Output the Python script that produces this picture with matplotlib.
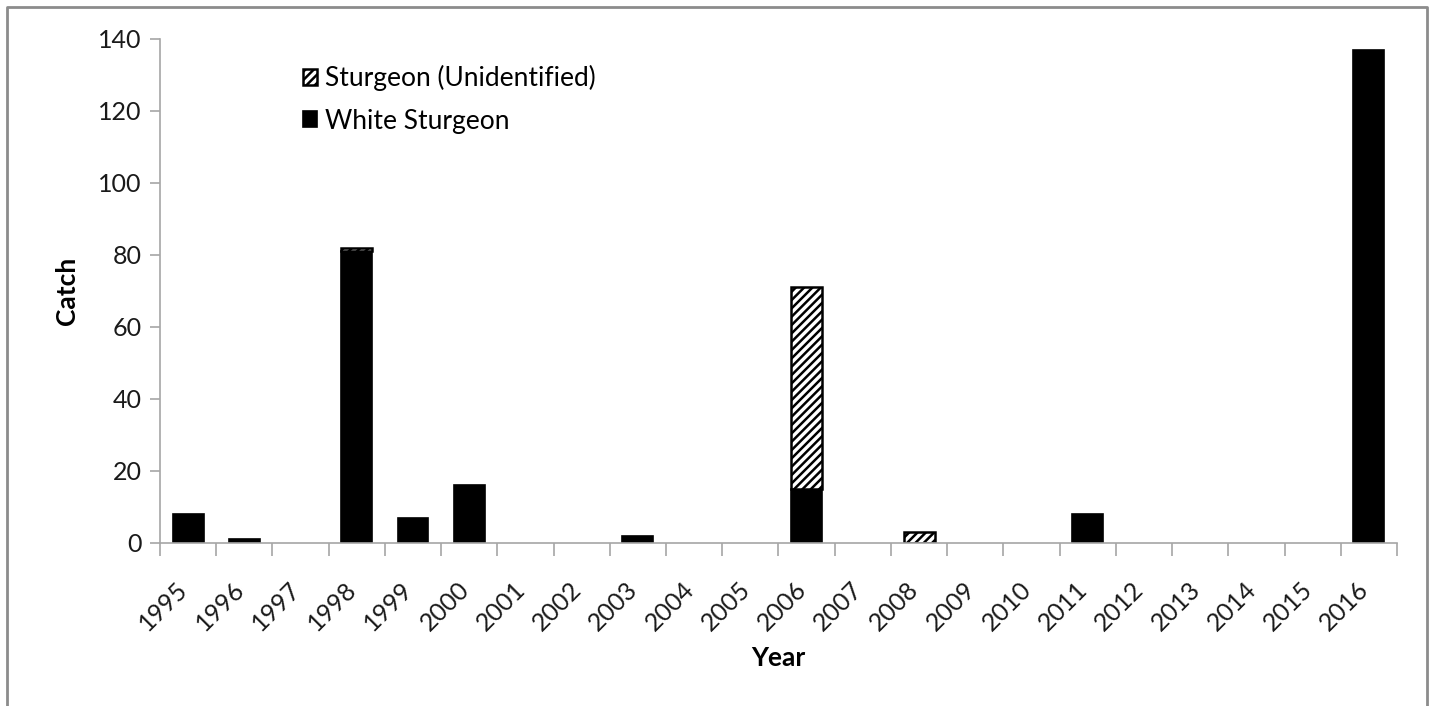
import numpy as np
import matplotlib.pyplot as plt
import matplotlib.transforms as mtransforms
from matplotlib.lines import Line2D

plt.rcParams['font.family'] = ['Lato', 'DejaVu Sans']
plt.rcParams['hatch.linewidth'] = 1.8

# datos
years = ['1995', '1996', '1997', '1998', '1999', '2000', '2001', '2002', '2003', '2004', '2005',
         '2006', '2007', '2008', '2009', '2010', '2011', '2012', '2013', '2014', '2015', '2016']
white = [8, 1, 0, 81, 7, 16, 0, 0, 2, 0, 0, 15, 0, 0, 0, 0, 8, 0, 0, 0, 0, 137]
unident = [0, 0, 0, 1, 0, 0, 0, 0, 0, 0, 0, 56, 0, 3, 0, 0, 0, 0, 0, 0, 0, 0]

gris = '#a6a6a6'
W, H = 1434, 706
x = np.arange(len(years))
white = np.array(white, dtype=float)
unident = np.array(unident, dtype=float)

fig = plt.figure(figsize=(W/100, H/100), dpi=100)
ax = fig.add_axes([160/W, 1-543/H, (1397-160)/W, (543-39)/H])

# solo se dibujan las barras con valor distinto de cero
w = 0.55
iw = white > 0
iu = unident > 0
ax.bar(x[iw], white[iw], width=w, color='black', edgecolor='black', linewidth=1.2,
       label='White Sturgeon')
ax.bar(x[iu], unident[iu], width=w, bottom=white[iu], color='white', edgecolor='black',
       linewidth=1.8, hatch='////', label='Sturgeon (Unidentified)')

ax.set_xlim(-0.5, len(years) - 0.5)
ax.set_ylim(0, 140)
ax.set_yticks(np.arange(0, 141, 20))
ax.set_xticks(x)
ax.set_xticklabels(years, rotation=45, ha='right', va='center', rotation_mode='anchor')
ax.set_xticks(np.arange(-0.5, len(years), 1), minor=True)
ax.tick_params(axis='x', which='major', length=0, pad=31, labelsize=18, labelcolor='#1a1a1a')
ax.tick_params(axis='x', which='minor', length=9, color=gris, width=1.2)
ax.tick_params(axis='y', length=7, color=gris, width=1.2, pad=6, labelsize=18,
               labelcolor='#1a1a1a')

# desplazamiento de las etiquetas del eje x
off = mtransforms.ScaledTranslation(-4/100, 0, fig.dpi_scale_trans)
for lab in ax.get_xticklabels():
    lab.set_transform(lab.get_transform() + off)

for s in ['top', 'right']:
    ax.spines[s].set_visible(False)
for s in ['left', 'bottom']:
    ax.spines[s].set_color(gris)
    ax.spines[s].set_linewidth(1.2)

ax.set_ylabel('Catch', fontsize=19, fontweight='bold', labelpad=14)
ax.set_xlabel('Year', fontsize=19, fontweight='bold', labelpad=8)

h, l = ax.get_legend_handles_labels()
ax.legend(h[::-1], l[::-1], loc='upper left', bbox_to_anchor=(0.096, 0.995), frameon=False,
          fontsize=19, handlelength=0.55, handleheight=0.55, handletextpad=0.3, labelspacing=0.65)

# borde exterior (izquierda, arriba y derecha)
bx0, bx1, by1 = 7/W, 1-7/W, 1-7/H
fig.add_artist(Line2D([bx0, bx0, bx1, bx1], [0, by1, by1, 0], transform=fig.transFigure,
                      color='#8c8c8c', linewidth=2))

fig.savefig('out.png', dpi=100)
